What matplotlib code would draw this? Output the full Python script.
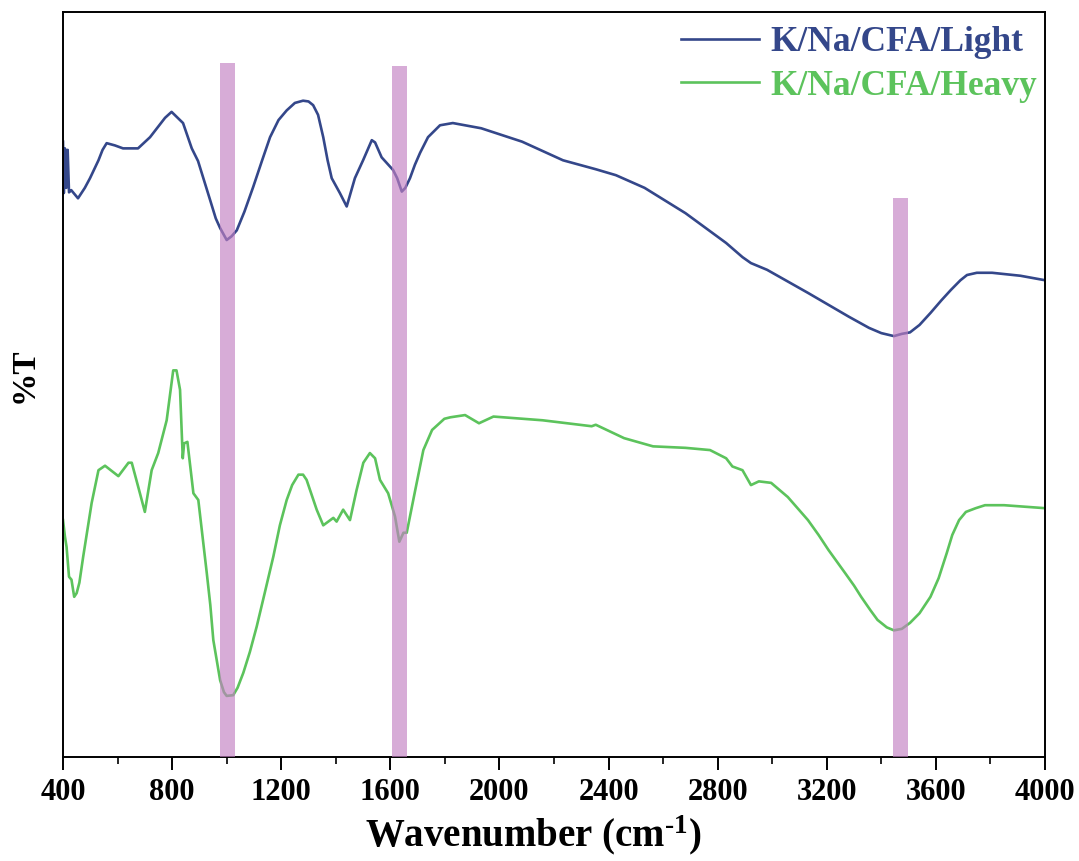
import matplotlib
matplotlib.use("Agg")
import matplotlib.pyplot as plt
from matplotlib.ticker import MultipleLocator

# FTIR spectra (transmittance, arbitrary offset units)
wn_light = [400, 403, 407, 412, 417, 422, 430, 455, 480, 499, 530, 545, 560, 590, 620, 675,
            719, 774, 798, 840, 872, 895, 939, 960, 976, 1000, 1018, 1037, 1065, 1097,
            1130, 1159, 1190, 1220, 1250, 1280, 1300, 1317, 1335, 1354, 1370, 1385, 1415,
            1440, 1470, 1500, 1532, 1544, 1568, 1610, 1625, 1642, 1655, 1672, 1690, 1709,
            1738, 1760, 1782, 1829, 1933, 2083, 2233, 2353, 2427, 2532, 2682, 2831, 2891,
            2922, 2981, 3131, 3281, 3355, 3400, 3446, 3475, 3505, 3540, 3580, 3620, 3655,
            3690, 3714, 3750, 3806, 3910, 4000]
t_light = [82.6, 75.7, 81.7, 76.4, 81.5, 75.8, 76.1, 75.0, 76.4, 77.7, 80.1, 81.5, 82.4,
           82.1, 81.7, 81.7, 83.2, 85.8, 86.6, 85.1, 81.7, 80.0, 74.8, 72.3, 71.0, 69.4,
           69.9, 70.7, 73.2, 76.5, 80.1, 83.2, 85.5, 86.8, 87.8, 88.1, 88.0, 87.5, 86.2,
           83.2, 80.1, 77.7, 75.7, 73.9, 77.7, 80.1, 82.8, 82.5, 80.5, 78.8, 77.7, 75.9,
           76.4, 77.7, 79.5, 81.1, 83.2, 84.0, 84.8, 85.1, 84.4, 82.6, 80.1, 78.9, 78.1,
           76.4, 73.0, 69.0, 67.1, 66.3, 65.4, 62.3, 59.1, 57.6, 56.9, 56.5, 56.8, 57.0,
           58.0, 59.6, 61.3, 62.7, 64.0, 64.7, 65.0, 65.0, 64.6, 64.0]

wn_heavy = [400, 407, 413, 422, 431, 441, 450, 460, 474, 505, 530, 554, 603, 640, 652,
            682, 700, 725, 749, 780, 804, 816, 829, 839, 844, 856, 878, 896, 927, 940,
            951, 976, 990, 1000, 1024, 1040, 1061, 1085, 1110, 1140, 1171, 1195, 1220,
            1240, 1263, 1280, 1293, 1330, 1354, 1391, 1403, 1427, 1452, 1476, 1501, 1525,
            1544, 1562, 1592, 1617, 1633, 1648, 1660, 1690, 1721, 1753, 1798, 1820, 1874,
            1925, 1978, 2158, 2338, 2353, 2457, 2563, 2682, 2772, 2831, 2854, 2891, 2922,
            2951, 2996, 3057, 3131, 3170, 3206, 3267, 3300, 3326, 3360, 3386, 3420, 3446,
            3475, 3505, 3540, 3580, 3610, 3640, 3660, 3685, 3710, 3746, 3780, 3850, 4000]
t_heavy = [31.8, 29.6, 28.2, 24.2, 23.8, 21.5, 22.0, 23.4, 26.9, 34.1, 38.5, 39.1, 37.7,
           39.5, 39.5, 35.4, 32.9, 38.5, 40.8, 45.2, 51.9, 51.9, 49.3, 40.1, 42.1, 42.3,
           35.4, 34.5, 24.7, 20.4, 15.7, 10.3, 8.7, 8.2, 8.3, 9.3, 11.3, 14.1, 17.5, 22.1,
           26.9, 31.1, 34.5, 36.5, 37.9, 37.9, 37.2, 33.2, 31.1, 32.1, 31.6, 33.2, 31.8,
           35.8, 39.5, 40.8, 40.1, 37.2, 35.4, 32.3, 28.9, 30.1, 30.1, 35.6, 41.2, 43.9,
           45.4, 45.6, 45.9, 44.8, 45.7, 45.2, 44.4, 44.6, 42.8, 41.7, 41.5, 41.2, 40.1,
           39.0, 38.5, 36.5, 37.0, 36.8, 34.9, 31.8, 29.8, 27.8, 24.7, 23.0, 21.5, 19.7,
           18.4, 17.4, 17.0, 17.2, 18.0, 19.3, 21.5, 24.0, 27.4, 29.8, 31.8, 32.9, 33.4,
           33.8, 33.8, 33.4]

# Highlighted absorption bands
band_centers = [1003, 1633, 3470]
band_heights = [93.2, 92.8, 75.0]
band_width = 55

labels = ["K/Na/CFA/Light", "K/Na/CFA/Heavy"]
colors = ["#34478a", "#5cc35c"]

plt.rcParams["font.family"] = ["Liberation Serif", "DejaVu Serif"]
plt.rcParams["font.weight"] = "bold"
plt.rcParams["mathtext.fontset"] = "custom"
plt.rcParams["mathtext.rm"] = "Liberation Serif:bold"
plt.rcParams["mathtext.it"] = "Liberation Serif:bold"
plt.rcParams["mathtext.bf"] = "Liberation Serif:bold"

fig = plt.figure(figsize=(10.79, 8.61), dpi=100)
ax = fig.add_axes([0.0584, 0.1208, 0.9101, 0.8652])

ax.plot(wn_light, t_light, color=colors[0], lw=1.9, label=labels[0])
ax.plot(wn_heavy, t_heavy, color=colors[1], lw=1.9, label=labels[1])

ax.bar(band_centers, band_heights, width=band_width, bottom=0,
       color=(0.76, 0.5, 0.76), alpha=0.65, zorder=3, linewidth=0)

ax.set_xlim(400, 4000)
ax.set_ylim(0, 100)
ax.xaxis.set_major_locator(MultipleLocator(400))
ax.xaxis.set_minor_locator(MultipleLocator(200))
ax.set_yticks([])
ax.tick_params(axis="x", which="major", direction="out", length=9, width=1.4,
               labelsize=22, pad=6)
ax.tick_params(axis="x", which="minor", direction="out", length=5, width=1.2)
for lab in ax.get_xticklabels():
    lab.set_fontweight("bold")
for sp in ax.spines.values():
    sp.set_linewidth(1.4)

ax.set_xlabel(r"Wavenumber (cm$^{\text{-}1}$)", fontsize=28, fontweight="bold")
ax.xaxis.set_label_coords(0.479, -0.076)
ax.set_ylabel("%T", fontsize=24, fontweight="bold")
ax.yaxis.set_label_coords(-0.0234, 0.513)

leg = ax.legend(loc="upper right", frameon=False, fontsize=25.5,
                handlelength=2.2, handletextpad=0.3, borderaxespad=0.0,
                labelspacing=0.3, bbox_to_anchor=(1.006, 1.0))
for txt, c in zip(leg.get_texts(), colors):
    txt.set_color(c)
    txt.set_fontweight("bold")

fig.savefig("out.png", dpi=100)
